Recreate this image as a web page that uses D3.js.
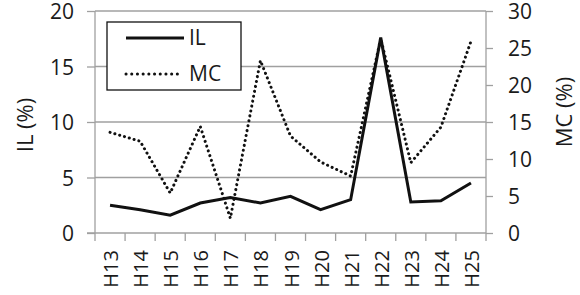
<!doctype html>
<html>
<head>
<style>
  body { margin: 0; background: #fff; }
  text { font-family: "Open Sans", "Noto Sans", sans-serif; fill: #1a1a1a; }
</style>
<script src="https://d3js.org/d3.v7.min.js"></script>
</head>
<body>
<svg id="svg" width="580" height="295"></svg>
<script>
var years = ["H13","H14","H15","H16","H17","H18","H19","H20","H21","H22","H23","H24","H25"];
var ilValues = [2.5, 2.1, 1.6, 2.7, 3.2, 2.7, 3.3, 2.1, 3.0, 17.6, 2.8, 2.9, 4.5];
var mcValues = [13.6, 12.4, 5.4, 14.4, 2.0, 23.3, 13.1, 9.6, 7.7, 26.3, 9.5, 14.3, 25.9];
var ilTicks = [0, 5, 10, 15, 20];
var mcTicks = [0, 5, 10, 15, 20, 25, 30];

var svg = d3.select("#svg");
var plotL = 95, plotR = 486, plotT = 11, plotB = 233;
var grey = "#a0a0a0";

var x = d3.scaleBand().domain(years).range([plotL, plotR]);
var yL = d3.scaleLinear().domain([0, 20]).range([plotB, plotT]);
var yR = d3.scaleLinear().domain([0, 30]).range([plotB, plotT]);

// gridlines
svg.append("g").selectAll("line")
  .data(ilTicks.slice(1))
  .enter().append("line")
  .attr("x1", plotL).attr("x2", plotR)
  .attr("y1", function(d) { return yL(d); })
  .attr("y2", function(d) { return yL(d); })
  .attr("stroke", grey).attr("stroke-width", 1.3);

// left axis
var gl = svg.append("g")
  .attr("transform", "translate(" + plotL + ",0)")
  .call(d3.axisLeft(yL).tickValues(ilTicks).tickSize(8).tickPadding(13));
gl.selectAll("line, path").attr("stroke", grey).attr("stroke-width", 1.3);
gl.select(".domain").attr("d", "M0," + plotB + "V" + plotT);
gl.selectAll("text").style("font-size", "21px").style("font-family", "Open Sans").attr("dy", "0.36em");

// right axis
var gr = svg.append("g")
  .attr("transform", "translate(" + plotR + ",0)")
  .call(d3.axisRight(yR).tickValues(mcTicks).tickSize(7).tickPadding(15));
gr.selectAll("line, path").attr("stroke", grey).attr("stroke-width", 1.3);
gr.select(".domain").attr("d", "M0," + plotB + "V" + plotT);
gr.selectAll("text").style("font-size", "21px").style("font-family", "Open Sans").attr("dy", "0.36em");

// bottom axis, ticks between categories
var gb = svg.append("g")
  .attr("transform", "translate(0," + plotB + ")");
gb.append("line").attr("x1", plotL - 8).attr("x2", plotR)
  .attr("stroke", grey).attr("stroke-width", 1.3);
gb.selectAll(".tk")
  .data(years.concat(["end"]))
  .enter().append("line")
  .attr("x1", function(d, i) { return plotL + i * x.step(); })
  .attr("x2", function(d, i) { return plotL + i * x.step(); })
  .attr("y1", 0).attr("y2", 8)
  .attr("stroke", grey).attr("stroke-width", 1.3);
gb.selectAll(".lbl")
  .data(years)
  .enter().append("text")
  .attr("transform", function(d) {
    return "translate(" + (x(d) + x.bandwidth() / 2 + 8) + ",17) rotate(-90)";
  })
  .attr("text-anchor", "end")
  .style("font-size", "20px")
  .text(function(d) { return d; });

// axis titles
svg.append("text")
  .attr("transform", "translate(33,125) rotate(-90)")
  .attr("text-anchor", "middle")
  .style("font-size", "22px")
  .text("IL (%)");
svg.append("text")
  .attr("transform", "translate(572,112) rotate(-90)")
  .attr("text-anchor", "middle")
  .style("font-size", "22px")
  .text("MC (%)");

// lines
var cx = function(i) { return x(years[i]) + x.bandwidth() / 2; };
var mcLine = d3.line().x(function(d, i) { return cx(i); }).y(function(d) { return yR(d); });
var ilLine = d3.line().x(function(d, i) { return cx(i); }).y(function(d) { return yL(d); });

svg.append("path").datum(mcValues)
  .attr("d", mcLine)
  .attr("fill", "none").attr("stroke", "#111")
  .attr("stroke-width", 3)
  .attr("stroke-linecap", "round")
  .attr("stroke-dasharray", "0.1 4.9");

svg.append("path").datum(ilValues)
  .attr("d", ilLine)
  .attr("fill", "none").attr("stroke", "#111")
  .attr("stroke-width", 3)
  .attr("stroke-linejoin", "miter");

// legend
var lg = svg.append("g");
lg.append("rect").attr("x", 107).attr("y", 22).attr("width", 134).attr("height", 68)
  .attr("fill", "#fff").attr("stroke", "#111").attr("stroke-width", 1.3);
lg.append("line").attr("x1", 126).attr("x2", 184).attr("y1", 38).attr("y2", 38)
  .attr("stroke", "#111").attr("stroke-width", 3);
lg.append("line").attr("x1", 126).attr("x2", 180).attr("y1", 74).attr("y2", 74)
  .attr("stroke", "#111").attr("stroke-width", 3)
  .attr("stroke-linecap", "round").attr("stroke-dasharray", "0.1 5.6");
lg.append("text").attr("x", 189).attr("y", 45).style("font-size", "21px").text("IL");
lg.append("text").attr("x", 189).attr("y", 81).style("font-size", "21px").text("MC");
</script>
</body>
</html>
